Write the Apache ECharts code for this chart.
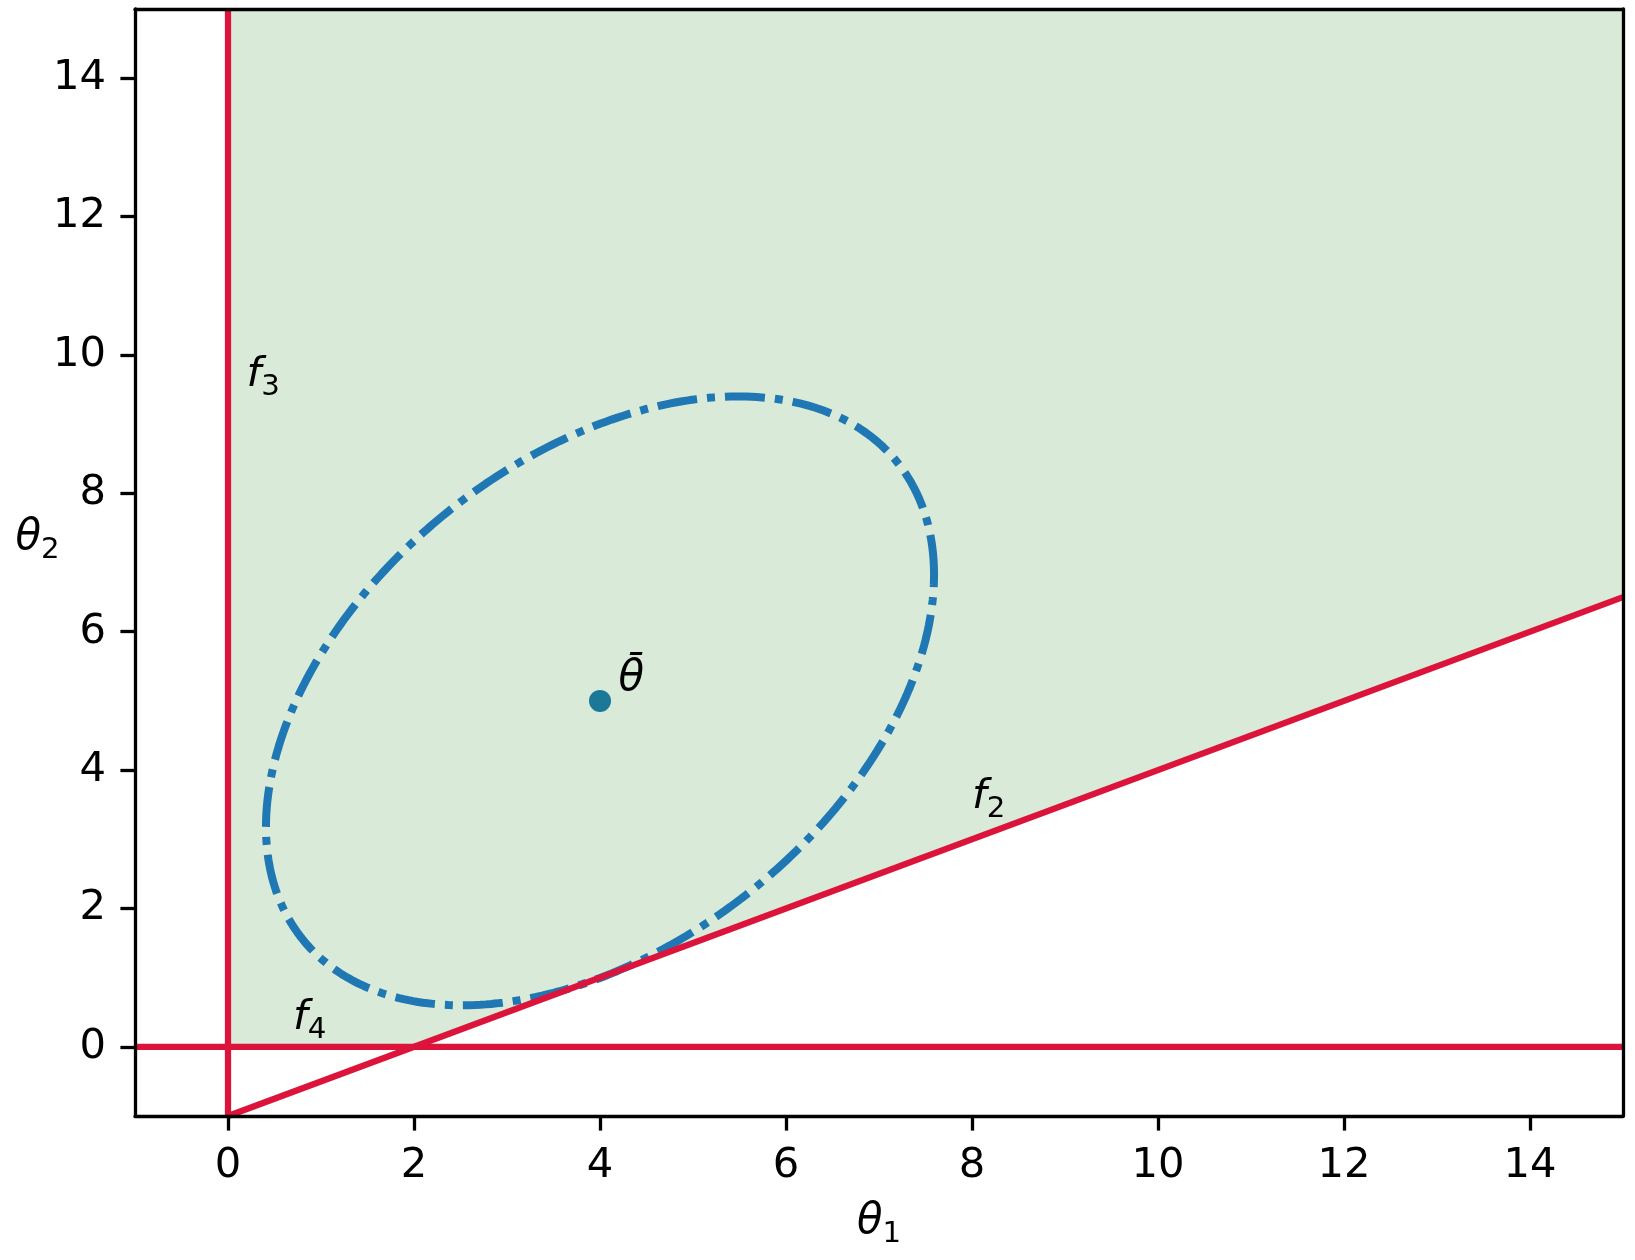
<!DOCTYPE html>
<html><head><meta charset="utf-8">
<script src="https://cdn.jsdelivr.net/npm/echarts@6/dist/echarts.min.js"></script>
<style>html,body{margin:0;padding:0;background:#fff}#c{width:1635px;height:1260px}</style>
</head><body><div id="c"></div>
<script>
// ---- data ----
const xRange = [-1, 15];
const yRange = [-1, 15];
const xTicks = [0, 2, 4, 6, 8, 10, 12, 14];
const yTicks = [0, 2, 4, 6, 8, 10, 12, 14];
const feasibleRegion = [[0, 15], [0, 0], [2, 0], [15, 6.5], [15, 15]];
const f2Line = [[0, -1], [15, 6.5]];
const f3Line = [[0, -1], [0, 15]];
const f4Line = [[-1, 0], [15, 0]];
const thetaBar = [[4, 5]];
const ellipseCenter = [4, 5];
const ellipseVarX = 12.9;
const ellipseVarY = 19.36;
const ellipseCovXY = 6.55;
const annotations = [
  [0.2, 9.5, 'f', '3'],
  [0.7, 0.2, 'f', '4'],
  [8.0, 3.4, 'f', '2'],
  [4.2, 5.1, 'θ\u0304', '']
];
const xName = ['θ', '1'];
const yName = ['θ', '2'];

// ---- build ellipse outline from its centre and spread ----
const ea = Math.sqrt(ellipseVarX), eb = ellipseCovXY / ea, ec = Math.sqrt(ellipseVarY - eb * eb);
const ellipsePts = [];
const N = 360;
for (let i = 0; i <= N; i++) {
  const t = 2 * Math.PI * i / N;
  ellipsePts.push([ellipseCenter[0] + ea * Math.cos(t), ellipseCenter[1] + eb * Math.cos(t) + ec * Math.sin(t)]);
}

const FS = 41.7, SUB = 29.2, SUBDROP = 8, BASE = 0.346;
const FAM = '"DejaVu Sans"';
const mctx = document.createElement('canvas').getContext('2d');
function w(text, font) { mctx.font = font; return mctx.measureText(text).width; }
const mainFont = 'italic ' + FS + 'px ' + FAM;
const subFont = SUB + 'px ' + FAM;

// children for italic main glyph + upright subscript; (0,0) = left baseline
function mathChildren(main, sub) {
  const mw = w(main, mainFont);
  const ch = [{ type: 'text', x: 0, y: -BASE * FS, style: { text: main, font: mainFont, fill: '#000', align: 'left', verticalAlign: 'middle' } }];
  if (sub) ch.push({ type: 'text', x: mw, y: SUBDROP - BASE * SUB, style: { text: sub, font: subFont, fill: '#000', align: 'left', verticalAlign: 'middle' } });
  return { children: ch, width: mw + (sub ? w(sub, subFont) : 0) };
}

const chart = echarts.init(document.getElementById('c'), null, { renderer: 'canvas' });
const axisLineStyle = { color: '#000', width: 3.3 };
const GRID = { left: 135, top: 9, width: 1488, height: 1107 };

const xl = mathChildren(xName[0], xName[1]);
const yl = mathChildren(yName[0], yName[1]);

chart.setOption({
  animation: false,
  backgroundColor: '#fff',
  grid: GRID,
  xAxis: [
    { type: 'value', min: xRange[0], max: xRange[1], position: 'bottom', z: 10,
      axisLine: { show: true, onZero: false, lineStyle: axisLineStyle },
      axisTick: { show: true, customValues: xTicks, length: 14.6, lineStyle: axisLineStyle },
      axisLabel: { customValues: xTicks, margin: 29, fontSize: FS, fontFamily: 'DejaVu Sans', color: '#000' },
      splitLine: { show: false } },
    { type: 'value', min: xRange[0], max: xRange[1], position: 'top', z: 10,
      axisLine: { show: true, onZero: false, lineStyle: axisLineStyle },
      axisTick: { show: false }, axisLabel: { show: false }, splitLine: { show: false } }
  ],
  yAxis: [
    { type: 'value', min: yRange[0], max: yRange[1], position: 'left', z: 10,
      axisLine: { show: true, onZero: false, lineStyle: axisLineStyle },
      axisTick: { show: true, customValues: yTicks, length: 14.6, lineStyle: axisLineStyle },
      axisLabel: { customValues: yTicks, margin: 29, fontSize: FS, fontFamily: 'DejaVu Sans', color: '#000' },
      splitLine: { show: false } },
    { type: 'value', min: yRange[0], max: yRange[1], position: 'right', z: 10,
      axisLine: { show: true, onZero: false, lineStyle: axisLineStyle },
      axisTick: { show: false }, axisLabel: { show: false }, splitLine: { show: false } }
  ],
  graphic: [
    { type: 'group', x: GRID.left + GRID.width / 2 - xl.width / 2, y: 1237, children: xl.children },
    { type: 'group', x: 37.5 - yl.width / 2, y: 553, children: yl.children }
  ],
  series: [
    { type: 'custom', z: 1, silent: true, data: [[feasibleRegion[0][0], feasibleRegion[0][1]]],
      renderItem: function (params, api) {
        return { type: 'polygon', shape: { points: feasibleRegion.map(p => api.coord(p)) },
                 style: { fill: '#d9ebd8', stroke: '#cde3cc', lineWidth: 1 } };
      } },
    { type: 'line', z: 3, data: ellipsePts, showSymbol: false, symbol: 'none', smooth: false,
      lineStyle: { color: '#1f77b4', width: 8, type: [40, 10, 8, 10], cap: 'butt' } },
    { type: 'line', z: 4, data: f3Line, showSymbol: false, symbol: 'none', lineStyle: { color: '#dc143c', width: 6.25 } },
    { type: 'line', z: 4, data: f4Line, showSymbol: false, symbol: 'none', lineStyle: { color: '#dc143c', width: 6.25 } },
    { type: 'line', z: 4, data: f2Line, showSymbol: false, symbol: 'none', lineStyle: { color: '#dc143c', width: 6.25 } },
    { type: 'scatter', z: 5, data: thetaBar, symbolSize: 22, itemStyle: { color: '#1b7899', opacity: 1 } },
    { type: 'custom', z: 6, silent: true, data: annotations,
      encode: { x: 0, y: 1 },
      renderItem: function (params, api) {
        const a = annotations[params.dataIndex];
        const p = api.coord([a[0], a[1]]);
        const m = mathChildren(a[2], a[3]);
        return { type: 'group', x: p[0], y: p[1], children: m.children };
      } }
  ]
});
</script></body></html>
